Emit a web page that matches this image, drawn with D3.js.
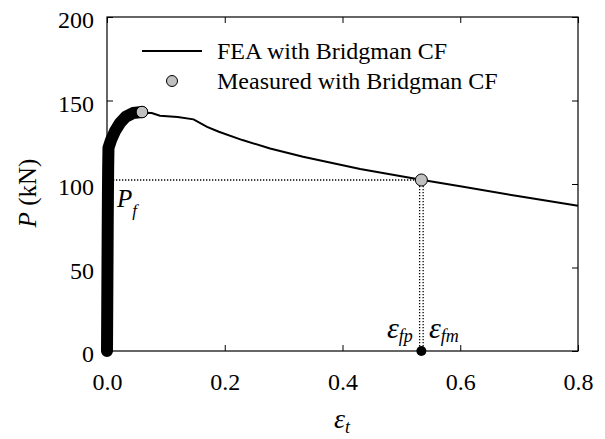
<!DOCTYPE html>
<html>
<head>
<meta charset="utf-8">
<script src="https://cdn.jsdelivr.net/npm/d3@7"></script>
<style>
  body { margin: 0; background: #fff; }
  svg { display: block; }
</style>
</head>
<body>
<svg id="chart" width="605" height="439"></svg>
<script>
// FEA load-strain curve
const feaStrain = [0, 0.0006, 0.0012, 0.0018, 0.0025, 0.0068, 0.0136, 0.0221, 0.0323, 0.0442, 0.06, 0.076, 0.09, 0.12, 0.147, 0.17, 0.19, 0.23, 0.277, 0.333, 0.43, 0.536, 0.6, 0.7, 0.8];
const feaLoad = [0, 40, 80, 108, 120, 126, 131.5, 136.3, 140.2, 142.2, 142.6, 142.5, 140.9, 140.1, 138.7, 134.2, 131.3, 126.3, 121.3, 116.3, 109.0, 102.4, 98.6, 92.6, 87.0];
// measured load-strain record (dense markers)
const measStrain = [0, 0.0004, 0.0008, 0.0012, 0.0016, 0.002, 0.0025, 0.0068, 0.0136, 0.0221, 0.0323, 0.0442, 0.0594];
const measLoad = [0, 25, 50, 75, 95, 110, 121.6, 126.3, 131.7, 136.5, 140.4, 142.5, 143.1];
// fracture point
const fractureLoad = [102.4];
const fractureStrain = [0.531, 0.537]; // eps_fp, eps_fm
const xTicks = [0, 0.2, 0.4, 0.6, 0.8];
const yTicks = [0, 50, 100, 150, 200];
const legendLabels = ['FEA with Bridgman CF', 'Measured with Bridgman CF'];

const serif = 'Liberation Serif';
const width = 605, height = 439;
const margin = { top: 17, right: 27, bottom: 88, left: 107 };
const x = d3.scaleLinear([0, 0.8], [margin.left, width - margin.right]);
const y = d3.scaleLinear([0, 200], [height - margin.bottom, margin.top]);
const svg = d3.select('#chart');
const fs = 24;

const fea = feaStrain.map((e, i) => [e, feaLoad[i]]);
const meas = measStrain.map((e, i) => [e, measLoad[i]]);
const line = d3.line().x((d) => x(d[0])).y((d) => y(d[1]));

// axes with inward ticks on all four sides
svg.append('g').attr('transform', `translate(0,${y(0)})`)
  .call(d3.axisBottom(x).tickValues(xTicks).tickSize(-6).tickPadding(22).tickFormat(d3.format('.1f')));
svg.append('g').attr('transform', `translate(0,${y(200)})`)
  .call(d3.axisTop(x).tickValues(xTicks).tickSize(-6).tickFormat(''));
const left = svg.append('g').attr('transform', `translate(${x(0)},0)`)
  .call(d3.axisLeft(y).tickValues(yTicks).tickSize(-6).tickPadding(13));
svg.append('g').attr('transform', `translate(${x(0.8)},0)`)
  .call(d3.axisRight(y).tickValues(yTicks).tickSize(-6).tickFormat(''));
svg.selectAll('g').attr('font-family', serif).attr('font-size', fs);
svg.selectAll('.domain').remove();
svg.selectAll('.tick line').attr('stroke', '#000');
svg.selectAll('.tick text').attr('fill', '#000');
left.selectAll('.tick text').attr('dy', '0.45em');
svg.append('rect').attr('x', x(0)).attr('y', y(200)).attr('width', x(0.8) - x(0)).attr('height', y(0) - y(200))
  .attr('fill', 'none').attr('stroke', '#000').attr('stroke-width', 1.2);

// dotted guides at fracture
const dot = (x1, y1, x2, y2) => svg.append('line').attr('x1', x1).attr('y1', y1).attr('x2', x2).attr('y2', y2)
  .attr('stroke', '#000').attr('stroke-width', 1.3).attr('stroke-dasharray', '1.3,1.7');
dot(x(0), y(fractureLoad[0]), x(fractureStrain[0]), y(fractureLoad[0]));
fractureStrain.forEach((e) => dot(x(e), y(fractureLoad[0]), x(e), y(0)));

// curves
svg.append('path').datum(fea).attr('d', line).attr('fill', 'none').attr('stroke', '#000').attr('stroke-width', 2);
svg.append('path').datum(meas).attr('d', line).attr('fill', 'none').attr('stroke', '#000')
  .attr('stroke-width', 12).attr('stroke-linecap', 'round').attr('stroke-linejoin', 'round');
svg.append('circle').attr('cx', x(meas[meas.length - 1][0])).attr('cy', y(meas[meas.length - 1][1])).attr('r', 5.8)
  .attr('fill', '#c0c0c0').attr('stroke', '#000').attr('stroke-width', 1);
svg.append('circle').attr('cx', x(d3.mean(fractureStrain))).attr('cy', y(0)).attr('r', 5).attr('fill', '#000');
svg.append('circle').attr('cx', x(d3.mean(fractureStrain))).attr('cy', y(fractureLoad[0])).attr('r', 6)
  .attr('fill', '#c0c0c0').attr('stroke', '#000').attr('stroke-width', 1);

// legend
const lg = svg.append('g');
lg.append('line').attr('x1', 142).attr('x2', 202).attr('y1', 51).attr('y2', 51).attr('stroke', '#000').attr('stroke-width', 2);
lg.append('circle').attr('cx', 172).attr('cy', 81).attr('r', 5.5).attr('fill', '#c0c0c0').attr('stroke', '#000').attr('stroke-width', 1);
lg.selectAll('text').data(legendLabels).join('text').attr('x', 217).attr('y', (d, i) => 59 + i * 30)
  .attr('font-family', serif).attr('font-size', fs).text((d) => d);

// annotations
const sub = (px, py, main, s, mainSize, subSize, subDy) => {
  const t = svg.append('text').attr('x', px).attr('y', py).attr('font-style', 'italic').attr('font-family', serif);
  t.append('tspan').attr('font-size', mainSize).text(main);
  t.append('tspan').attr('font-size', subSize).attr('dy', subDy).text(s);
};
sub(117, 207, 'P', 'f', 25, 17, 9);
sub(387, 338, 'ε', 'fp', 30, 18, 4);
sub(429, 338, 'ε', 'fm', 30, 18, 4);
sub(334, 428, 'ε', 't', 28, 18, 5);
svg.append('text').attr('transform', 'translate(36,193) rotate(-90)').attr('text-anchor', 'middle')
  .attr('font-family', serif).attr('font-size', 25)
  .call((t) => { t.append('tspan').attr('font-style', 'italic').text('P'); t.append('tspan').text(' (kN)'); });
</script>
</body>
</html>
